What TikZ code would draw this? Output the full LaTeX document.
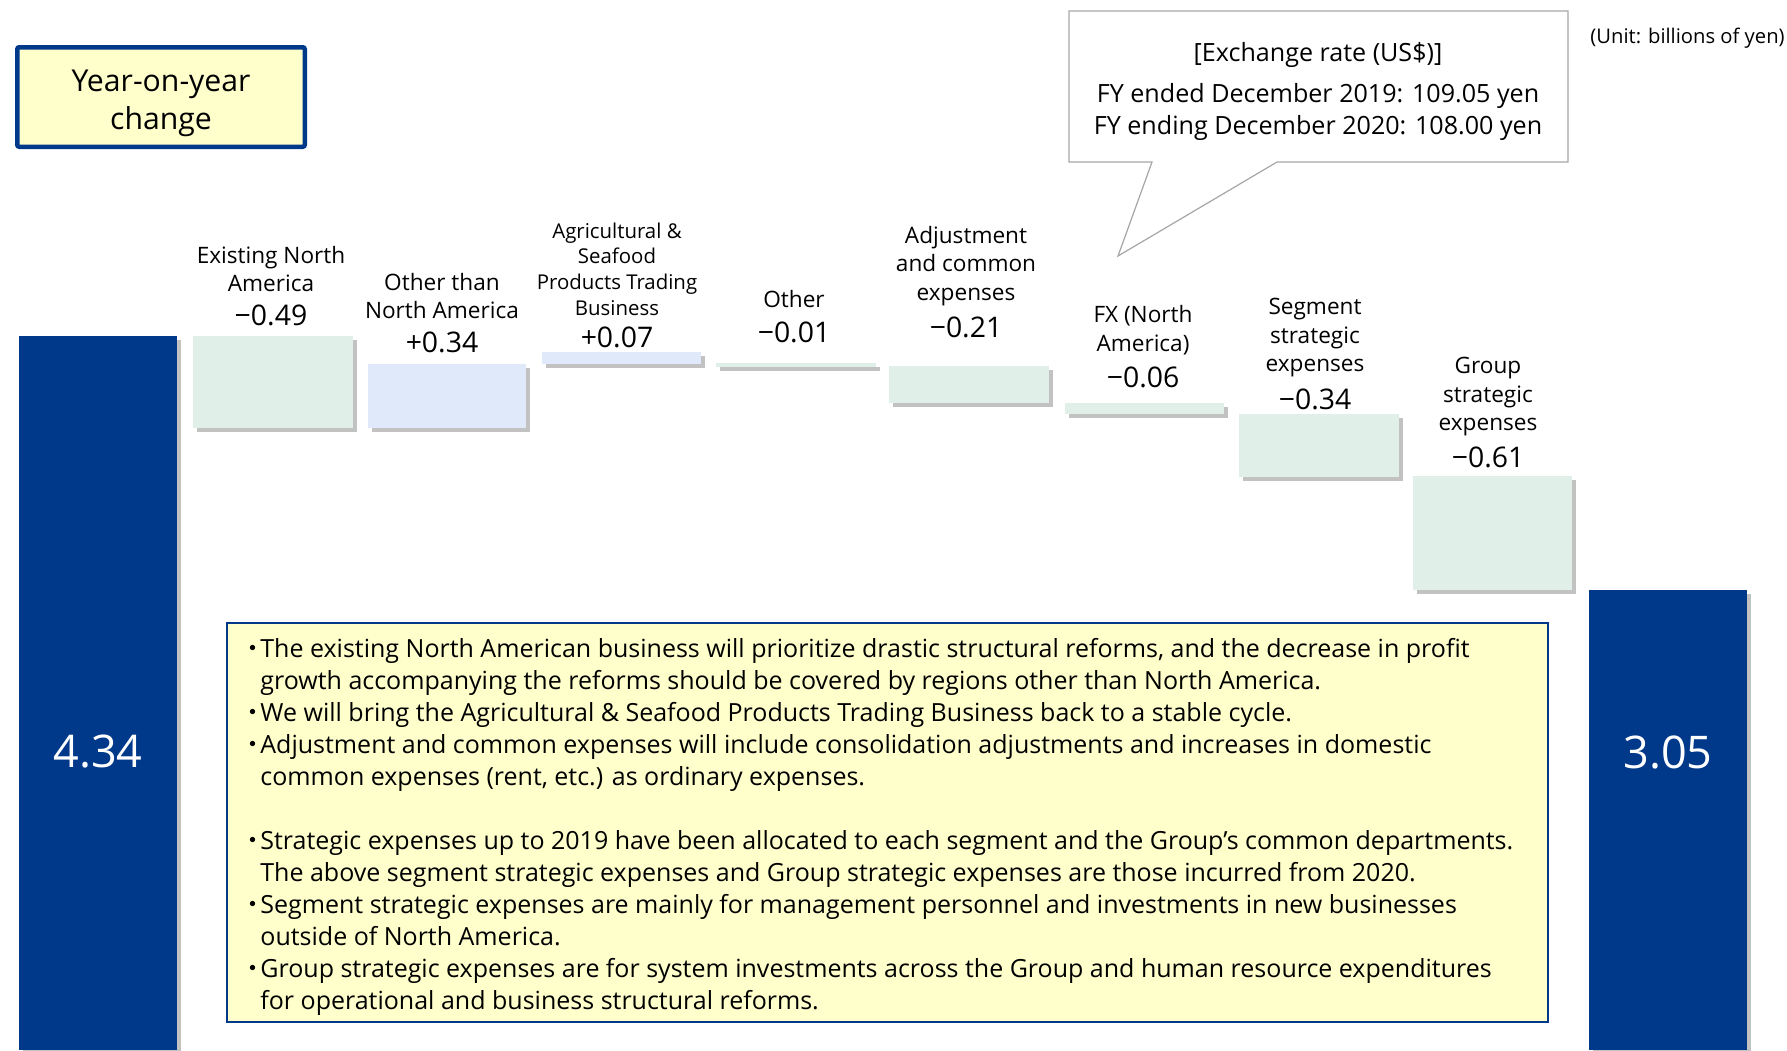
\documentclass[tikz,border=0pt]{standalone}
\usepackage{fontspec}
\setmainfont{Open Sans}
\newfontfamily\cjk{Noto Sans CJK JP}
\usetikzlibrary{shadows}
\definecolor{navy}{HTML}{00388A}
\definecolor{mint}{HTML}{E0EFE8}
\definecolor{paleblue}{HTML}{DFE9FA}
\definecolor{notefill}{HTML}{FFFFCC}
\definecolor{edgegrey}{HTML}{A6A6A6}
\newcommand{\bul}{\makebox[7pt][c]{\cjk ・}}
\newcommand{\ind}{\hspace*{7pt}}
\begin{document}
\begin{tikzpicture}[x=0.5pt,y=-0.5pt,
    barshadow/.style={drop shadow={shadow xshift=2pt,shadow yshift=-2pt,opacity=.4,fill=black!60}},
    upbar/.style={fill=paleblue,barshadow},
    downbar/.style={fill=mint,barshadow},
    totalbar/.style={fill=navy,barshadow},
    itemlbl/.style={align=center,inner sep=0pt,font=\fontsize{11.3}{14.25}\selectfont},
    itemval/.style={inner sep=0pt,font=\fontsize{14.2}{16}\selectfont},
    totalval/.style={inner sep=0pt,text=white,font=\fontsize{22.5}{26}\selectfont}]
\useasboundingbox (0,0) rectangle (1787,1050);
\node[draw=navy,line width=2.25pt,fill=notefill,rounded corners=1pt,minimum width=143.75pt,minimum height=49.75pt] (yoy) at (161,97) {};
\node[align=center,inner sep=0pt,yshift=-3pt,font=\fontsize{15.1}{19}\selectfont] (yoytext) at (yoy.center) {Year-on-year\\change};
\node[anchor=east,inner sep=0pt,font=\fontsize{10.1}{12}\selectfont] (unit) at (1785,38) {(Unit: billions of yen)};
% exchange rate callout
\draw[edgegrey,fill=white,line width=0.6pt] (1069,11) -- (1568,11) -- (1568,162) -- (1277,162) -- (1118,256) -- (1152,162) -- (1069,162) -- cycle;
\node[inner sep=0pt,font=\fontsize{12.55}{16}\selectfont] (fxhead) at (1318,55) {[Exchange rate (US\$)]};
\node[inner sep=0pt,align=center,font=\fontsize{12.55}{16}\selectfont] (fxrates) at (1318,112) {FY ended December 2019: 109.05 yen\\FY ending December 2020: 108.00 yen};
% bars
\fill[totalbar] (19,336) rectangle ++(158,714);
\node[totalval] (vstart) at (98,752) {4.34};
\fill[downbar] (193,336) rectangle ++(160,92);
\node[itemlbl] (lexist) at (271,269) {Existing North\\America};
\node[itemval] (vexist) at (271,315) {−0.49};
\fill[upbar] (368,364) rectangle ++(158,64);
\node[itemlbl] (lothna) at (442,296) {Other than\\North America};
\node[itemval] (vothna) at (442,342) {+0.34};
\fill[upbar] (542,352) rectangle ++(159,12);
\node[itemlbl,font=\fontsize{10.2}{12.8}\selectfont] (lagri) at (617,269) {Agricultural \&\\Seafood\\Products Trading\\Business};
\node[itemval] (vagri) at (617,337) {+0.07};
\fill[downbar] (716,363) rectangle ++(160,4);
\node[itemlbl] (lother) at (794,299) {Other};
\node[itemval] (vother) at (794,332) {−0.01};
\fill[downbar] (889,366) rectangle ++(160,37);
\node[itemlbl] (ladj) at (966,266) {Adjustment\\and common\\expenses};
\node[itemval] (vadj) at (966,327) {−0.21};
\fill[downbar] (1065,403) rectangle ++(159,11);
\node[itemlbl] (lfx) at (1143,330) {FX (North\\America)};
\node[itemval] (vfx) at (1143,377) {−0.06};
\fill[downbar] (1239,414) rectangle ++(160,63);
\node[itemlbl] (lseg) at (1315,338) {Segment\\strategic\\expenses};
\node[itemval] (vseg) at (1315,399) {−0.34};
\fill[downbar] (1413,476) rectangle ++(159,114);
\node[itemlbl] (lgrp) at (1488,397) {Group\\strategic\\expenses};
\node[itemval] (vgrp) at (1488,457) {−0.61};
\fill[totalbar] (1589,590) rectangle ++(158,460);
\node[totalval] (vend) at (1668,752) {3.05};
% notes
\draw[navy,line width=1pt,fill=notefill] (227,623) rectangle (1548,1022);
\node[anchor=north west,inner sep=0pt,align=left,font=\fontsize{12.5}{16}\selectfont] (notes) at (246,638) {\bul The existing North American business will prioritize drastic structural reforms, and the decrease in profit\\
\ind growth accompanying the reforms should be covered by regions other than North America.\\
\bul We will bring the Agricultural \& Seafood Products Trading Business back to a stable cycle.\\
\bul Adjustment and common expenses will include consolidation adjustments and increases in domestic\\
\ind common expenses (rent, etc.) as ordinary expenses.\\[16pt]
\bul Strategic expenses up to 2019 have been allocated to each segment and the Group’s common departments.\\
\ind The above segment strategic expenses and Group strategic expenses are those incurred from 2020.\\
\bul Segment strategic expenses are mainly for management personnel and investments in new businesses\\
\ind outside of North America.\\
\bul Group strategic expenses are for system investments across the Group and human resource expenditures\\
\ind for operational and business structural reforms.};
\end{tikzpicture}
\end{document}
